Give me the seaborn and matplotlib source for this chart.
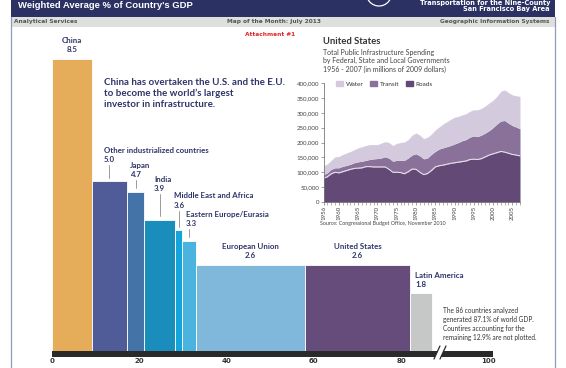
import numpy as np
import pandas as pd
import matplotlib
matplotlib.use("Agg")
import matplotlib.pyplot as plt
from matplotlib.patches import Rectangle, Polygon, Ellipse, Patch
import seaborn as sns

# ---------------- data ----------------
regions = ["China", "Other industrialized countries", "Japan", "India",
           "Middle East and Africa", "Eastern Europe/Eurasia",
           "European Union", "United States", "Latin America"]
invest_pct_gdp = [8.5, 5.0, 4.7, 3.9, 3.6, 3.3, 2.6, 2.6, 1.8]
gdp_share = [9.2, 7.9, 4.1, 6.9, 1.8, 3.1, 25.1, 23.9, 5.1]
bar_colors = ["#E5AC5A", "#4F5C97", "#4373A7", "#1B8DBC", "#14A4D8",
              "#4BB4DE", "#80B8DB", "#654C7B", "#C6C7C7"]
axis_ticks = [0, 20, 40, 60, 80, 100]

years = list(range(1956, 2008))
# thousands of millions of 2009 dollars
roads = [80, 85, 95, 100, 98, 102, 106, 110, 113, 114,
         115, 119, 119, 118, 118, 118, 118, 110, 100, 100,
         99, 95, 102, 111, 110, 100, 92, 96, 106, 118,
         122, 124, 127, 130, 132, 134, 136, 138, 143, 144,
         143, 146, 152, 158, 162, 166, 170, 168, 164, 160,
         158, 155]
transit = [12, 13, 15, 15, 17, 18, 17, 17, 19, 21,
           22, 21, 24, 27, 28, 30, 34, 37, 37, 40,
           41, 45, 46, 47, 52, 55, 53, 52, 54, 52,
           56, 58, 59, 60, 63, 66, 70, 72, 75, 78,
           77, 79, 80, 82, 88, 96, 102, 106, 101, 97,
           94, 91]
water = [30, 30, 30, 37, 38, 40, 42, 43, 44, 47,
         49, 50, 50, 48, 47, 50, 51, 53, 53, 57,
         60, 62, 62, 67, 70, 70, 68, 70, 68, 72,
         74, 80, 84, 88, 90, 88, 87, 87, 87, 88,
         90, 90, 91, 93, 92, 93, 100, 103, 103, 103,
         105, 109]
area_names = ["Roads", "Transit", "Water"]
area_colors = ["#634A76", "#8A7199", "#D4CADE"]
year_ticks = [1956, 1960, 1965, 1970, 1975, 1980, 1985, 1990, 1995, 2000, 2005]
spend_ticks = [0, 50, 100, 150, 200, 250, 300, 350, 400]

# ---------------- style ----------------
sns.set_theme(style="white")
plt.rcParams["font.family"] = ["Lato", "DejaVu Sans"]
NAVY = "#2E3468"

W, H = 566, 368
def fx(x):
    return x / W
def fy(y):
    return 1 - y / H

fig = plt.figure(figsize=(W / 100, H / 100), dpi=100)
fig.patch.set_facecolor("white")

# ---------------- header ----------------
fig.add_artist(Rectangle((fx(10.5), fy(17)), (555 - 10.5) / W, 17 / H,
                         transform=fig.transFigure, color="#2B3263", lw=0))
fig.add_artist(Rectangle((fx(10.5), fy(27)), (555 - 10.5) / W, 10 / H,
                         transform=fig.transFigure, color="#DFDFDD", lw=0))
fig.add_artist(Ellipse((fx(379), fy(-6.5)), 25 / W, 25 / H, transform=fig.transFigure,
                       fill=False, ec="white", lw=0.9))
fig.text(fx(18), fy(8.0), "Weighted Average % of Country's GDP", color="white",
         fontsize=6.8, weight="bold", family=["Liberation Sans", "DejaVu Sans"],
         va="baseline", ha="left")
fig.text(fx(550), fy(5.0), "Transportation for the Nine-County", color="white",
         fontsize=4.8, weight="bold", family="DejaVu Sans", va="baseline", ha="right")
fig.text(fx(550), fy(11.5), "San Francisco Bay Area", color="white",
         fontsize=4.8, weight="bold", family="DejaVu Sans", va="baseline", ha="right")
for txt, x, ha in [("Analytical Services", 14, "left"),
                   ("Map of the Month: July 2013", 274, "center"),
                   ("Geographic Information Systems", 550, "right")]:
    fig.text(fx(x), fy(22), txt, color="#555555", fontsize=4.2, weight="bold",
             family="DejaVu Sans", va="center", ha=ha)
fig.text(fx(270), fy(34), "Attachment #1", color="#E0262B", fontsize=4.2,
         weight="bold", family="DejaVu Sans", va="center", ha="center")
for xb in (10.5, 555):
    fig.add_artist(plt.Line2D([fx(xb), fx(xb)], [fy(17), fy(368)],
                              transform=fig.transFigure, color="#9599B8", lw=0.9))

# ---------------- main variable-width bar chart ----------------
ax = fig.add_axes([fx(52), 12 / H, 436.3 / W, 314.1 / H])
lefts = np.concatenate([[0], np.cumsum(gdp_share)[:-1]])
ax.bar(lefts, invest_pct_gdp, width=gdp_share, align="edge", color=bar_colors,
       edgecolor="white", linewidth=0.6, zorder=2)
ax.set_xlim(0, 100)
ax.set_ylim(0, 9)
for s in ax.spines.values():
    s.set_visible(False)
ax.set_yticks([])
ax.set_xticks(axis_ticks)
ax.set_xticklabels([str(t) for t in axis_ticks], fontsize=5, weight="bold",
                   color="#333333", family="DejaVu Sans")
ax.tick_params(axis="x", length=0, pad=1.2)

# axis bar with break
ax.add_patch(Rectangle((0, -0.02), 101.1, 0.165, color="#2A2A2A", zorder=5,
                       clip_on=False, lw=0))
ax.add_patch(Polygon([(87.55, -0.086), (88.93, -0.086), (90.3, 0.287), (88.93, 0.287)],
                     closed=True, color="white", zorder=6, clip_on=False, lw=0))
for x0 in (87.55, 88.93):
    ax.plot([x0, x0 + 1.37], [-0.086, 0.287], color="#2A2A2A", lw=0.9, zorder=7,
            clip_on=False)

# labels
centers = lefts + np.array(gdp_share) / 2
label_layout = {
    # name: (mode, x (data), value-line centre y (data) or None)
    "China": ("center", None, None),
    "European Union": ("center", None, None),
    "United States": ("center", None, None),
    "Other industrialized countries": ("left", 11.92, 5.62),
    "Japan": ("left", 17.88, 5.19),
    "India": ("left", 23.38, 4.79),
    "Middle East and Africa": ("left", 27.96, 4.31),
    "Eastern Europe/Eurasia": ("left", 30.64, 3.79),
    "Latin America": ("left", 83.2, None),
}
for i, name in enumerate(regions):
    mode, lx, vy = label_layout[name]
    h = invest_pct_gdp[i]
    txt = f"{name}\n{h:.1f}"
    if mode == "center":
        ax.text(centers[i], h + 0.41, txt, ha="center", va="center", fontsize=5.7,
                weight="bold", color=NAVY, linespacing=1.35)
    else:
        if vy is None:
            vy = h + 0.24
            ax.text(lx, vy + 0.145, txt, ha="left", va="center", fontsize=5.7,
                    weight="bold", color=NAVY, linespacing=1.35)
        else:
            ax.text(lx, vy + 0.145, txt, ha="left", va="center", fontsize=5.7,
                    weight="bold", color=NAVY, linespacing=1.35)
            ax.plot([centers[i], centers[i]], [h + 0.1, vy - 0.15], color="#8A8A8A",
                    lw=0.6, zorder=3)

ax.text(11.92, 7.53, "China has overtaken the U.S. and the E.U.\nto become the world\u2019s largest\ninvestor in infrastructure.",
        ha="left", va="center", fontsize=7.0, weight="bold", color=NAVY, linespacing=1.25)
ax.text(89.6, 0.917, "The 86 countries analyzed\ngenerated 87.1% of world GDP.\nCountires accounting for the\nremaining 12.9% are not plotted.",
        ha="left", va="center", fontsize=4.7, color="#333333", linespacing=1.3)

# ---------------- inset: US spending ----------------
fig.text(fx(323), fy(41), "United States", fontsize=6.8, weight="bold",
         color="#333333", va="center", ha="left")
fig.text(fx(323), fy(61), "Total Public Infrastructure Spending\nby Federal, State and Local Governments\n1956 - 2007 (in millions of 2009 dollars)",
         fontsize=5.0, color="#444444", va="center", ha="left", linespacing=1.3)

ax2 = fig.add_axes([fx(323.5), (368 - 202) / H, 196.5 / W, 119 / H])
ax2.stackplot(years, roads, transit, water, colors=area_colors, lw=0)
top_roads = pd.DataFrame({"year": years, "roads": roads})
sns.lineplot(data=top_roads, x="year", y="roads", color="#EDE8F0", lw=0.7, ax=ax2)
ax2.set_xlim(1956, 2007)
ax2.set_ylim(0, 400)
ax2.set_xlabel("")
ax2.set_ylabel("")
ax2.set_facecolor("white")
for k in ("top", "right"):
    ax2.spines[k].set_visible(False)
for k in ("left", "bottom"):
    ax2.spines[k].set_color("#777777")
    ax2.spines[k].set_linewidth(0.6)
ax2.set_yticks(spend_ticks)
ax2.set_yticklabels([f"{v * 1000:,}" for v in spend_ticks], fontsize=4.4, color="#444444")
ax2.set_xticks(year_ticks)
ax2.set_xticklabels([str(y) for y in year_ticks], rotation=90, fontsize=4.4, color="#444444")
ax2.set_xticks(years, minor=True)
ax2.tick_params(axis="both", which="major", length=2, width=0.5, color="#777777",
                pad=1, direction="out", bottom=True, left=True)
ax2.tick_params(axis="x", which="minor", length=2, width=0.4, color="#777777",
                direction="out", bottom=True)
handles = [Patch(color=area_colors[2], label="Water"),
           Patch(color=area_colors[1], label="Transit"),
           Patch(color=area_colors[0], label="Roads")]
ax2.legend(handles=handles, ncol=3, loc="upper left", bbox_to_anchor=(0.05, 1.04),
           frameon=False, fontsize=4.6, handlelength=1.1, handleheight=0.9,
           columnspacing=1.0, handletextpad=0.45, borderaxespad=0, labelcolor="#333333")
fig.text(fx(320), fy(223.5), "Source: Congressional Budget Office, November 2010",
         fontsize=3.8, color="#444444", va="center", ha="left")

fig.savefig("out.png", dpi=100)
